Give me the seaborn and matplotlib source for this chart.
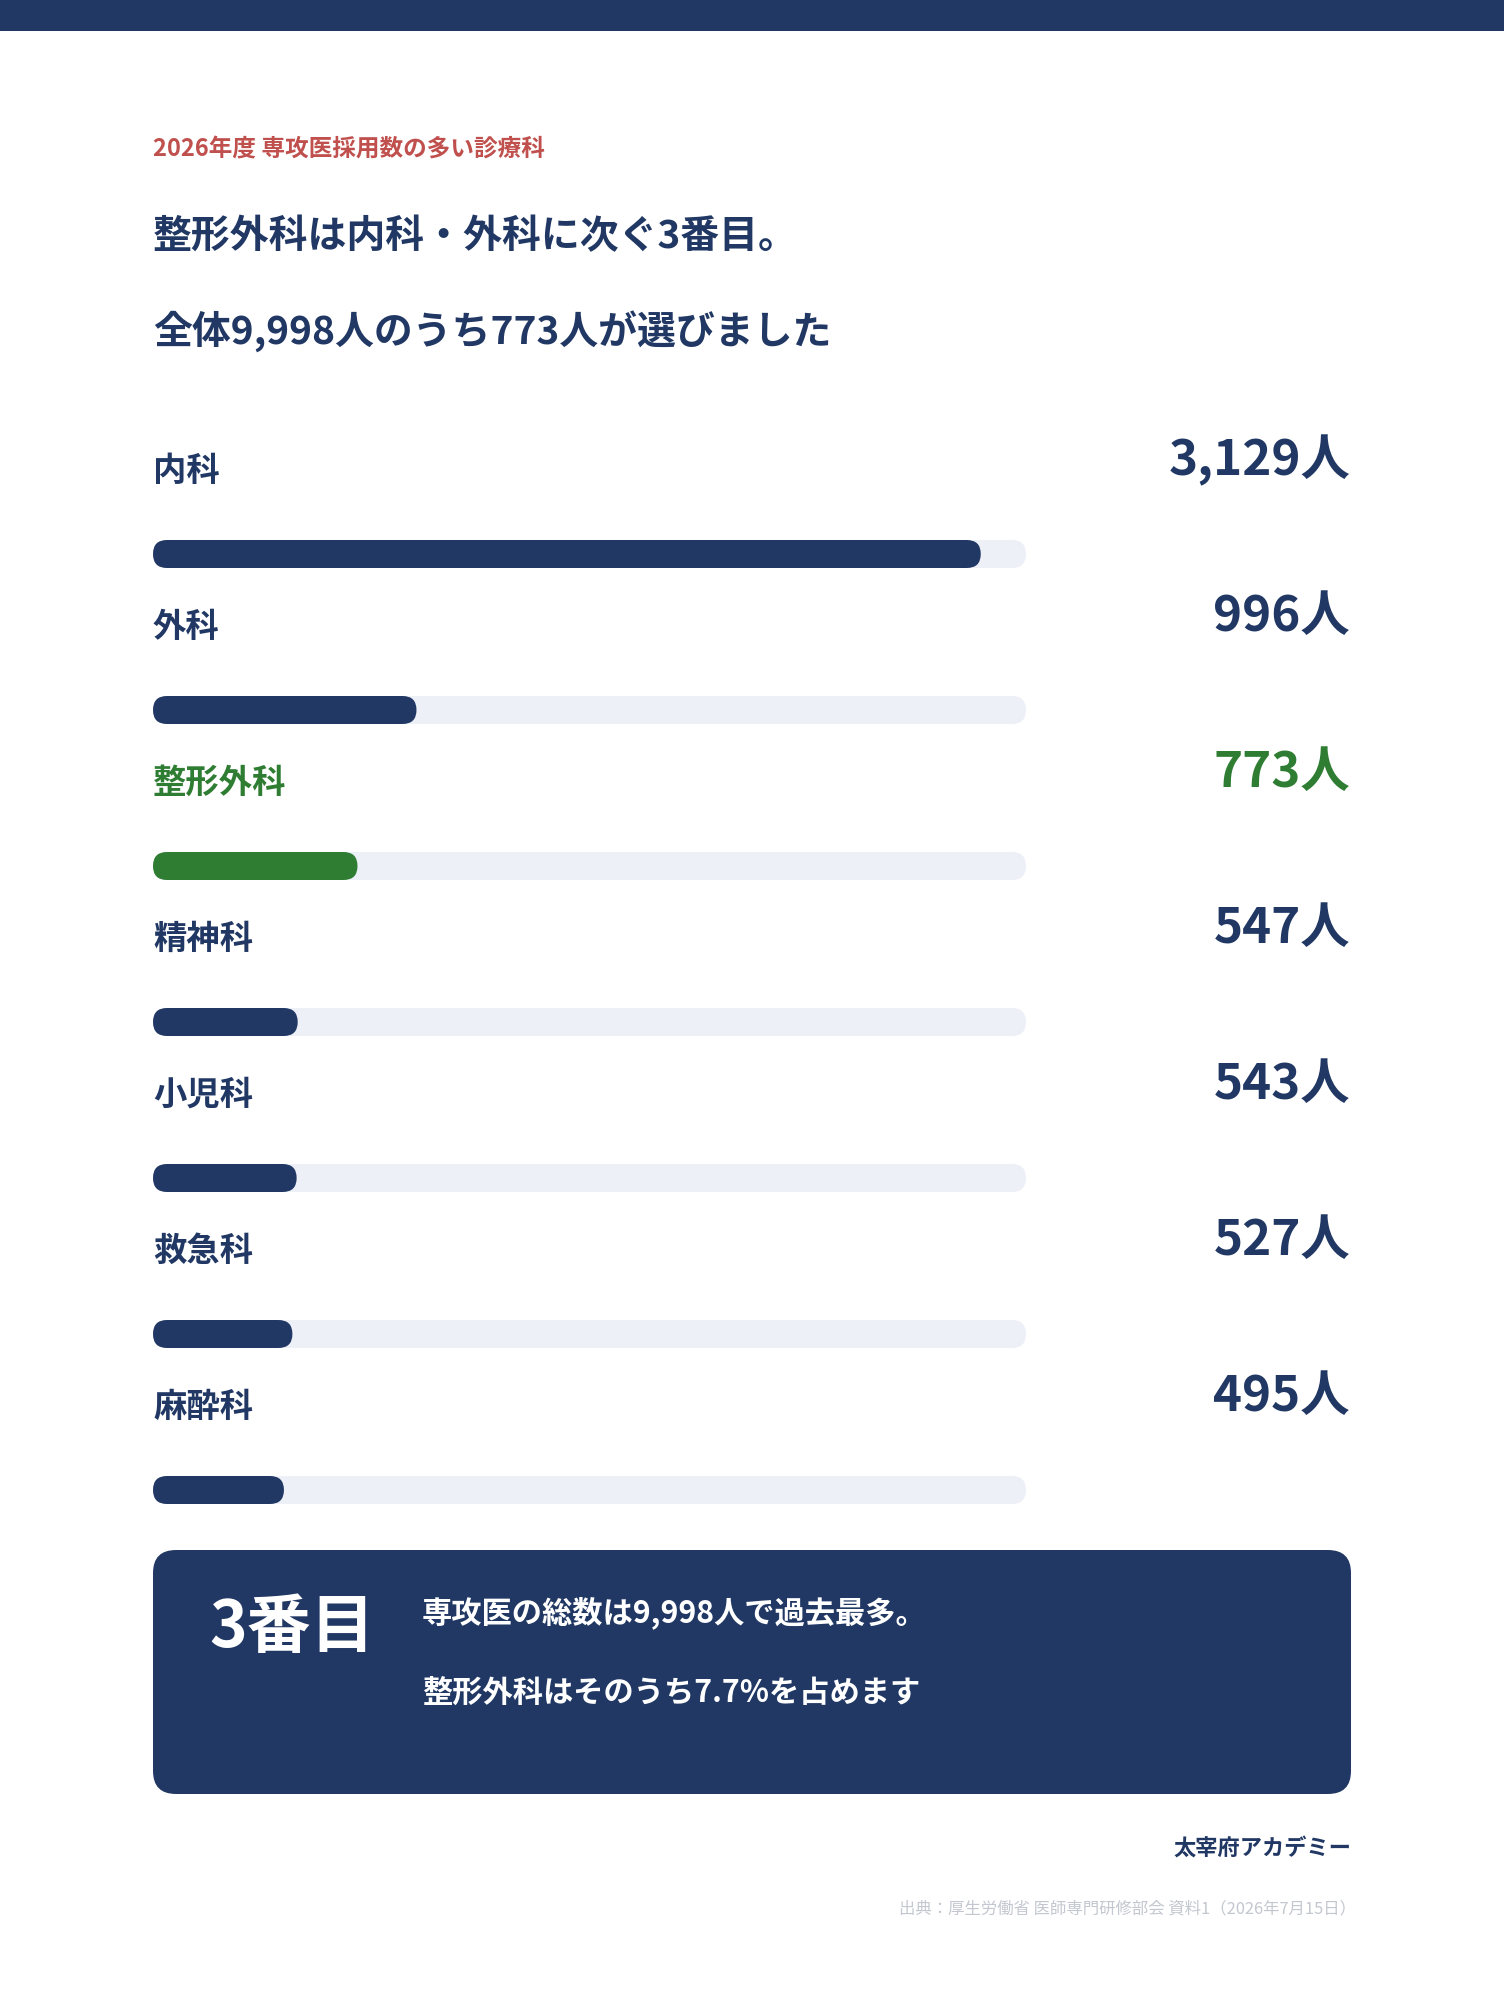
import matplotlib
matplotlib.use("Agg")
import matplotlib.pyplot as plt
import matplotlib.transforms as mtransforms
from matplotlib.patches import FancyBboxPatch, Rectangle
import seaborn as sns

# ── Data ──────────────────────────────────────────────────────────────────────
DEPTS  = ["内科", "外科", "整形外科", "精神科", "小児科", "救急科", "麻酔科"]
COUNTS = [3129, 996, 773, 547, 543, 527, 495]
HIGHLIGHT = "整形外科"
SCALE_MAX = 3300

KICKER   = "2026年度 専攻医採用数の多い診療科"
HEADLINE = ["整形外科は内科・外科に次ぐ3番目。", "全体9,998人のうち773人が選びました"]
BOX_BIG  = "3番目"
BOX_TEXT = ["専攻医の総数は9,998人で過去最多。", "整形外科はそのうち7.7%を占めます"]
BRAND    = "太宰府アカデミー"
SOURCE   = "出典：厚生労働省 医師専門研修部会 資料1（2026年7月15日）"

# ── Style ─────────────────────────────────────────────────────────────────────
NAVY  = "#213864"
GREEN = "#2e7d32"
RED   = "#c0504d"
TRACK = "#edf0f7"
GREY  = "#c3c7cf"

W, H = 1504, 2000
sns.set_theme(style="white")
plt.rcParams["font.family"] = ["Noto Sans CJK JP", "DejaVu Sans"]

def fx(px):
    return px / W

def fy(py):
    return 1 - py / H

fig = plt.figure(figsize=(W / 100, H / 100), dpi=100)
fig.patch.set_facecolor("white")

# top band
fig.add_artist(Rectangle((0, fy(31)), 1, 31 / H, transform=fig.transFigure,
                         facecolor=NAVY, edgecolor="none"))

# header texts
fig.text(fx(153), fy(149), KICKER, color=RED, fontsize=17, fontweight="bold",
         ha="left", va="center")
for line, py in zip(HEADLINE, [237, 332]):
    fig.text(fx(153), fy(py), line, color=NAVY, fontsize=28, fontweight="bold",
             ha="left", va="center")

# ── Bars ──────────────────────────────────────────────────────────────────────
ROW_PX = 156
BAR_PX = 28
top_px = 554 - ROW_PX * 1.0
bot_px = 554 + ROW_PX * 6.3
ax = fig.add_axes([fx(153), fy(bot_px), (1026 - 153) / W, (bot_px - top_px) / H])
bar_w = BAR_PX / ROW_PX
colors = [GREEN if d == HIGHLIGHT else NAVY for d in DEPTS]

sns.barplot(x=[SCALE_MAX] * len(DEPTS), y=DEPTS, color=TRACK, width=bar_w,
            saturation=1, ax=ax)
sns.barplot(x=COUNTS, y=DEPTS, hue=DEPTS, palette=colors, width=bar_w,
            saturation=1, legend=False, ax=ax)
ax.set_xlim(0, SCALE_MAX)
ax.set_ylim(6.3, -1.0)
ax.axis("off")

# round the bar ends
p0, p1 = ax.transData.transform([[0, 0], [1, 1]])
dx_px = abs(p1[0] - p0[0])
dy_px = abs(p1[1] - p0[1])
for p in list(ax.patches):
    x, y, w, h = p.get_x(), p.get_y(), p.get_width(), p.get_height()
    fc = p.get_facecolor()
    p.remove()
    if w <= 0:
        continue
    r_x = h * dy_px / 2 / dx_px
    ax.add_patch(FancyBboxPatch((x, y), w, h,
                                boxstyle=f"round,pad=0,rounding_size={r_x}",
                                mutation_aspect=dx_px / dy_px,
                                facecolor=fc, edgecolor="none"))

val_tf = mtransforms.blended_transform_factory(fig.transFigure, ax.transData)
for i, (dept, n) in enumerate(zip(DEPTS, COUNTS)):
    c = GREEN if dept == HIGHLIGHT else NAVY
    ax.text(0, i - 0.53, dept, color=c, fontsize=24, fontweight="bold",
            ha="left", va="center")
    ax.text(fx(1350), i - 0.60, f"{n:,}人", color=c, fontsize=35.5,
            fontweight="bold", ha="right", va="center", transform=val_tf)

# ── Summary box ───────────────────────────────────────────────────────────────
r = 23
fig.add_artist(FancyBboxPatch((fx(153), fy(1794)), (1351 - 153) / W, (1794 - 1550) / H,
                              boxstyle=f"round,pad=0,rounding_size={r / W}",
                              mutation_aspect=W / H, transform=fig.transFigure,
                              facecolor=NAVY, edgecolor="none"))
fig.text(fx(209), fy(1628), BOX_BIG, color="white", fontsize=46,
         fontweight="bold", ha="left", va="center")
for line, py in zip(BOX_TEXT, [1613, 1693]):
    fig.text(fx(422), fy(py), line, color="white", fontsize=21.8,
             fontweight="bold", ha="left", va="center")

# footer
fig.text(fx(1351), fy(1848), BRAND, color=NAVY, fontsize=16, fontweight="bold",
         ha="right", va="center")
fig.text(fx(1356), fy(1909), SOURCE, color=GREY, fontsize=11.8,
         ha="right", va="center")

fig.savefig("out.png", dpi=100, facecolor="white")
